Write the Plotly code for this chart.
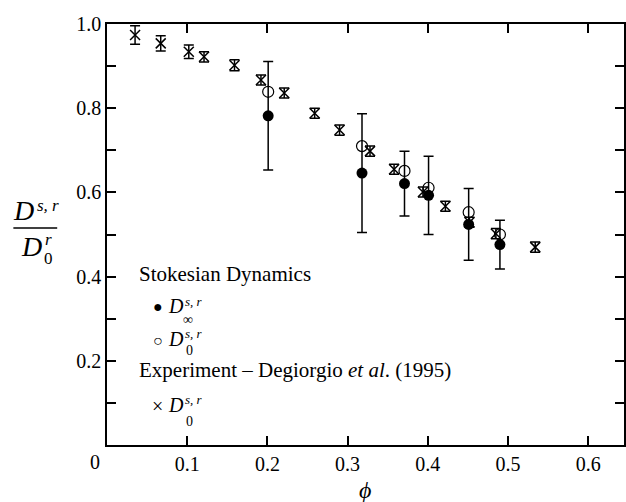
import plotly.graph_objects as go

# ---------------- data ----------------
exp_phi = [0.035, 0.067, 0.102, 0.121, 0.159, 0.192, 0.221, 0.259, 0.290,
           0.328, 0.358, 0.394, 0.422, 0.452, 0.485, 0.534]
exp_D = [0.974, 0.954, 0.934, 0.922, 0.902, 0.867, 0.836, 0.788, 0.748,
         0.698, 0.655, 0.601, 0.567, 0.529, 0.502, 0.470]
exp_err = [0.022, 0.018, 0.016, 0.012, 0.013, 0.012, 0.012, 0.012, 0.012,
           0.012, 0.012, 0.012, 0.012, 0.012, 0.012, 0.012]

sd_phi = [0.201, 0.318, 0.371, 0.401, 0.451, 0.490]
sd_Dinf = [0.782, 0.646, 0.621, 0.593, 0.524, 0.476]
sd_Dinf_err = [0.129, 0.141, 0.077, 0.093, 0.085, 0.058]
sd_D0 = [0.839, 0.710, 0.651, 0.611, 0.553, 0.500]

x_ticks = [0.1, 0.2, 0.3, 0.4, 0.5, 0.6]
x_ticktext = ["0.1", "0.2", "0.3", "0.4", "0.5", "0.6"]
y_ticks = [0.1, 0.2, 0.3, 0.4, 0.5, 0.6, 0.7, 0.8, 0.9, 1.0]
y_ticktext = ["", "0.2", "", "0.4", "", "0.6", "", "0.8", "", "1.0"]

SERIF = "Liberation Serif, Times New Roman, serif"

# plot-area geometry (pixels)
W, H = 626, 502
L, R, T, B = 107, 626, 24, 445


def px(x):
    return (x - L) / (R - L)


def py(y):
    return (B - y) / (B - T)


fig = go.Figure()

fig.add_trace(go.Scatter(
    x=exp_phi, y=exp_D, mode="markers",
    marker=dict(symbol="x-thin-open", size=10, color="black",
                line=dict(width=1.5, color="black")),
    error_y=dict(type="data", array=exp_err, visible=True,
                 color="black", thickness=1.5, width=5),
    showlegend=False))

fig.add_trace(go.Scatter(
    x=sd_phi, y=sd_Dinf, mode="markers",
    marker=dict(symbol="circle", size=11, color="black"),
    error_y=dict(type="data", array=sd_Dinf_err, visible=True,
                 color="black", thickness=1.5, width=5),
    showlegend=False))

fig.add_trace(go.Scatter(
    x=sd_phi, y=sd_D0, mode="markers",
    marker=dict(symbol="circle-open", size=11, color="black",
                line=dict(width=1.2, color="black")),
    showlegend=False))

anns = []


def ann(text, x, y, size, xanchor="left", italic=False):
    if italic:
        text = "<i>" + text + "</i>"
    anns.append(dict(text=text, x=px(x), y=py(y), xref="paper", yref="paper",
                     xanchor=xanchor, yanchor="middle", showarrow=False,
                     font=dict(family=SERIF, size=size, color="black")))


# legend block
ann("Stokesian Dynamics", 137, 274, 21)
ann("●", 158, 306, 16, xanchor="center")
ann("D", 166, 306, 20, italic=True)
ann("s, r", 183, 301, 13, italic=True)
ann("∞", 181, 319, 14)
ann("○", 158, 340, 16, xanchor="center")
ann("D", 166, 339, 20, italic=True)
ann("s, r", 183, 333, 13, italic=True)
ann("0", 184, 350, 14)
ann("Experiment – Degiorgio <i>et al</i>. (1995)", 137, 370, 21)
ann("×", 158, 406, 20, xanchor="center")
ann("D", 166, 405, 20, italic=True)
ann("s, r", 183, 399, 13, italic=True)
ann("0", 184, 421, 14)

# y-axis label (fraction)
ann("D", 11, 210, 28, italic=True)
ann("s, r", 35, 205, 17, italic=True)
ann("D", 19, 246, 28, italic=True)
ann("r", 43, 240, 17, italic=True)
ann("0", 42, 258, 17)

# x-axis title and origin label
ann("ϕ", 366, 490, 24, xanchor="center", italic=True)
ann("0", 95, 462, 20, xanchor="center")

fig.add_shape(type="line", xref="paper", yref="paper",
              x0=px(13), x1=px(57), y0=py(228), y1=py(228),
              line=dict(color="black", width=1.5))

axis_common = dict(showline=True, linecolor="black", linewidth=1.5,
                   mirror="ticks", ticks="inside", ticklen=9, tickwidth=1.5,
                   tickcolor="black", showgrid=False, zeroline=False,
                   tickfont=dict(family=SERIF, size=20, color="black"))

fig.update_xaxes(range=[0, (R - L) / 805.0], tickmode="array",
                 tickvals=x_ticks, ticktext=x_ticktext, **axis_common)
fig.update_yaxes(range=[0, 1.0], tickmode="array",
                 tickvals=y_ticks, ticktext=y_ticktext, **axis_common)

fig.update_layout(width=W, height=H,
                  margin=dict(l=L, r=W - R, t=T, b=H - B),
                  plot_bgcolor="white", paper_bgcolor="white",
                  annotations=anns, showlegend=False)

fig.write_html("out.html")
